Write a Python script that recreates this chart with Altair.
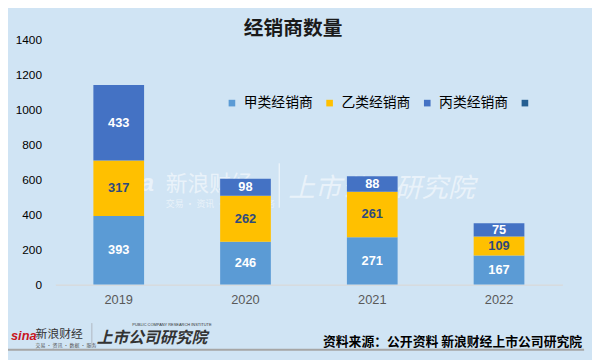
import altair as alt
import pandas as pd

years = ["2019", "2020", "2021", "2022"]
cat_a = [393, 246, 271, 167]   # 甲类经销商
cat_b = [317, 262, 261, 109]   # 乙类经销商
cat_c = [433, 98, 88, 75]      # 丙类经销商
categories = ["甲类经销商", "乙类经销商", "丙类经销商", " "]
colors = ["#5b9bd5", "#ffc000", "#4472c4", "#255e91"]
y_ticks = [0, 200, 400, 600, 800, 1000, 1200, 1400]

rows = []
for i, y in enumerate(years):
    for k, vals in enumerate([cat_a, cat_b, cat_c]):
        rows.append({"year": y, "cat": categories[k], "order": k, "value": vals[i]})
df = pd.DataFrame(rows)

BG = "#d0e4f4"
CJK = "Noto Sans CJK SC"

base = alt.Chart(df).transform_stack(
    stack="value", groupby=["year"], as_=["y0", "y1"],
    sort=[alt.SortField("order", order="ascending")]
).transform_calculate(mid="(datum.y0 + datum.y1) / 2")

x_axis = alt.Axis(labelAngle=0, ticks=False, domain=True, domainColor="#d9d9d9",
                  domainWidth=1.2, labelColor="#595959", labelFontSize=13,
                  labelFont="Liberation Sans", labelPadding=9, grid=False)
y_axis = alt.Axis(values=y_ticks, format="d", labelOverlap=False, grid=False,
                  domain=False, ticks=False, labelColor="#000000", labelFontSize=12,
                  labelFont="Liberation Sans", labelPadding=14)
x_scale = alt.Scale(paddingInner=0.6, paddingOuter=0.3)
y_scale = alt.Scale(domain=[0, 1400], nice=False)

bars = base.mark_bar().encode(
    x=alt.X("year:N", sort=years, title=None, scale=x_scale, axis=x_axis),
    y=alt.Y("y0:Q", scale=y_scale, title=None, axis=y_axis),
    y2="y1:Q",
    color=alt.Color("cat:N", scale=alt.Scale(domain=categories, range=colors),
                    legend=alt.Legend(title=None, orient="none", direction="horizontal",
                                      legendX=172, legendY=57, symbolType="square",
                                      symbolSize=45, symbolStrokeWidth=0, labelFont=CJK,
                                      labelFontSize=14, labelColor="#000000",
                                      labelOffset=5, columnPadding=10, gridAlign="all")),
)

labels = base.mark_text(fontSize=13, fontWeight="bold", font="Liberation Sans",
                        baseline="middle").encode(
    x=alt.X("year:N", sort=years, title=None, scale=x_scale, axis=x_axis),
    y=alt.Y("mid:Q", scale=y_scale, title=None, axis=y_axis),
    text="value:Q",
    color=alt.condition(alt.datum.cat == "乙类经销商", alt.value("#2e4a7d"), alt.value("#ffffff")),
)

one = pd.DataFrame({"k": [0]})

def note(txt, x, y, **kw):
    return alt.Chart(one).mark_text(text=txt, **kw).encode(x=alt.value(x), y=alt.value(y))

title = note("经销商数量", 241, -11, font=CJK, fontSize=20, fontWeight="bold",
             color="#1a1a1a", align="center", baseline="middle")

wm_color = "#ffffff"
watermark = alt.layer(
    note("sina", 52, 146, font="Liberation Sans", fontSize=24, fontWeight="bold",
         fontStyle="italic", color=wm_color, opacity=0.55, align="left", baseline="middle"),
    note("新浪财经", 112, 146, font=CJK, fontSize=22, color=wm_color, opacity=0.55,
         align="left", baseline="middle"),
    note("交易 · 资讯 · 数据 · 服务", 112, 166, font=CJK, fontSize=9, color=wm_color,
         opacity=0.55, align="left", baseline="middle"),
    note("上市公司研究院", 236, 151, font=CJK, fontSize=27, fontStyle="italic",
         color=wm_color, opacity=0.55, align="left", baseline="middle"),
    alt.Chart(one).mark_rule(color=wm_color, opacity=0.55, strokeWidth=1.5).encode(
        x=alt.value(227), y=alt.value(125), y2=alt.value(170)),
)

footer = alt.layer(
    note("资料来源：公开资料 新浪财经上市公司研究院", 534, 306, font=CJK, fontSize=13,
         fontWeight="bold", color="#000000", align="right", baseline="middle"),
    note("sina", -45, 300, font="Liberation Sans", fontSize=13, fontWeight="bold",
         fontStyle="italic", color="#c8161e", align="left", baseline="middle"),
    note("新浪财经", -20, 298, font=CJK, fontSize=12, color="#333333",
         align="left", baseline="middle"),
    note("交易 · 资讯 · 数据 · 服务", -20, 309, font=CJK, fontSize=5, color="#555555",
         align="left", baseline="middle"),
    alt.Chart(one).mark_rule(color="#b0b8c0", strokeWidth=1).encode(
        x=alt.value(37), y=alt.value(287), y2=alt.value(312)),
    note("PUBLIC COMPANY RESEARCH INSTITUTE", 78, 289, font="Liberation Sans", fontSize=4,
         color="#333333", align="left", baseline="middle"),
    note("上市公司研究院", 42, 302, font=CJK, fontSize=16, fontWeight="bold",
         fontStyle="italic", color="#333333", align="left", baseline="middle"),
    alt.Chart(one).mark_rule(color="#a6a6a6", strokeWidth=2).encode(
        x=alt.value(-48), x2=alt.value(536), y=alt.value(314)),
)

chart = alt.layer(watermark, bars, labels, title, footer).resolve_scale(
    color="independent"
).properties(
    width=514, height=248,
    autosize=alt.AutoSizeParams(type="none"),
    padding={"left": 48, "top": 30, "right": 30, "bottom": 74},
    background=BG,
).configure_view(stroke=None)

chart.save("out.html", embed_options={"renderer": "svg", "actions": False})
